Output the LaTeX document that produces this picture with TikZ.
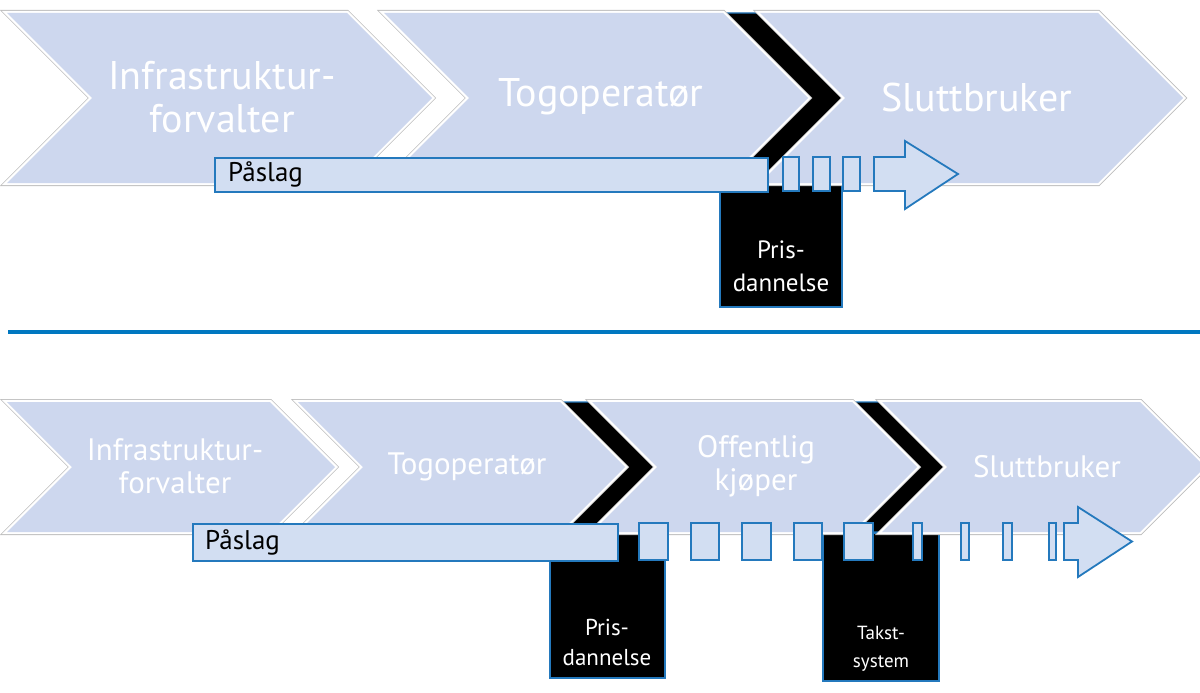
\documentclass[tikz,border=0pt]{standalone}
\usepackage{fontspec}
\setmainfont{PT Sans}
\definecolor{chevfill}{HTML}{CDD7EE}
\definecolor{barfill}{HTML}{D2DEF2}
\definecolor{lineblue}{HTML}{2479BD}
\definecolor{rule}{HTML}{0077C0}
\definecolor{edgegray}{HTML}{BDBDBD}
\tikzset{
  chevron/.style={fill=chevfill,
    preaction={draw=white, line width=4.4pt, line join=miter,
      preaction={draw=edgegray, line width=6pt, line join=miter}}},
  band/.style={fill=black, draw=lineblue, line width=1.2pt},
  pricebox/.style={fill=black, draw=lineblue, line width=1.6pt},
  barbox/.style={fill=barfill, draw=lineblue, line width=1.8pt},
  bigtxt/.style={text=white, inner sep=0pt, align=center,
    font=\fontsize{40}{43}\selectfont},
  smalltxt/.style={text=white, inner sep=0pt, align=center,
    font=\fontsize{31}{33}\selectfont},
  bartxt/.style={text=black, inner sep=0pt, anchor=west,
    font=\fontsize{27}{30}\selectfont},
  boxtxt/.style={text=white, inner sep=0pt, align=center},
}
% chevron: left x, top y, bottom y, top width, point depth
\newcommand\chevshape[5]{%
  \path[chevron] (#1,#2) -- ({#1+#4},#2) -- ({#1+#4+#5},{(#2+#3)/2})
    -- ({#1+#4},#3) -- (#1,#3) -- ({#1+#5},{(#2+#3)/2}) -- cycle;}
% black band between two chevrons: inner x, outer x, top, bottom, depth
\newcommand\bandshape[5]{%
  \path[band] (#1,#3) -- (#2,#3) -- ({#2+#5},{(#3+#4)/2}) -- (#2,#4)
    -- (#1,#4) -- ({#1+#5},{(#3+#4)/2}) -- cycle;}
% block arrow: shaft left, shaft right, shaft top, shaft bottom, head top, head bottom, tip x
\newcommand\blockarrow[7]{%
  \path[barbox] (#1,#3) -- (#2,#3) -- (#2,#5) -- (#7,{(#3+#4)/2}) -- (#2,#6)
    -- (#2,#4) -- (#1,#4) -- cycle;}
\newcommand\seg[4]{\path[barbox] (#1,#3) rectangle (#2,#4);}
\begin{document}
\begin{tikzpicture}[x=1pt,y=-1pt]
\useasboundingbox (0,0) rectangle (1200,693);

% ---------- upper chain ----------
\bandshape{723}{760}{13}{183}{85}
\path[pricebox] (720,183) rectangle (842,307);
\chevshape{7}{13}{183}{340}{85}
\chevshape{384}{13}{183}{339}{85}
\chevshape{760}{13}{183}{338}{85}
\node[bigtxt] (ia) at (222,97) {Infrastruktur-\\forvalter};
\node[bigtxt] (ta) at (601,97) {Togoperatør};
\node[bigtxt] (sa) at (977,97) {Sluttbruker};

\node[barbox, anchor=north west, minimum width=553pt, minimum height=34pt,
  inner sep=0pt] (pa) at (214,157) {};
\node[bartxt] (pat) at (228,174) {Påslag};
\seg{783}{799}{157}{191}
\seg{813}{830}{157}{191}
\seg{843}{860}{157}{191}
\blockarrow{874}{905}{157}{191}{141}{209}{958}
\node[boxtxt, font=\fontsize{25}{33}\selectfont] (pra) at (781,266) {Pris-\\dannelse};

% ---------- divider ----------
\coordinate (d1) at (8,332);
\coordinate (d2) at (1200,332);
\draw[rule, line width=4pt] (d1) -- (d2);

% ---------- lower chain ----------
\bandshape{560}{592}{402}{532}{65}
\bandshape{852}{882}{402}{532}{65}
\path[pricebox] (550,533) rectangle (665,678);
\path[pricebox] (823,533) rectangle (939,681);
\chevshape{7}{402}{532}{263}{65}
\chevshape{298}{402}{532}{262}{65}
\chevshape{592}{402}{532}{260}{65}
\chevshape{882}{402}{532}{258}{65}
\node[smalltxt] (ib) at (175,466) {Infrastruktur-\\forvalter};
\node[smalltxt] (tb) at (467,467) {Togoperatør};
\node[smalltxt] (ob) at (756,466) {Offentlig\\kjøper};
\node[smalltxt] (sb) at (1047,467) {Sluttbruker};

\node[barbox, anchor=north west, minimum width=425pt, minimum height=37pt,
  inner sep=0pt] (pb) at (192,523) {};
\node[bartxt] (pbt) at (205,542) {Påslag};
\seg{639}{668}{523}{560}
\seg{691}{719}{523}{560}
\seg{742}{771}{523}{560}
\seg{794}{822}{523}{560}
\seg{844}{873}{523}{560}
\seg{913}{922}{523}{560}
\seg{961}{969}{523}{560}
\seg{1003}{1012}{523}{560}
\seg{1049}{1056}{523}{560}
\blockarrow{1064}{1078}{523}{560}{507}{577}{1132}
\node[boxtxt, font=\fontsize{23}{30}\selectfont] (prb) at (607,642) {Pris-\\dannelse};
\node[boxtxt, font=\fontsize{19}{28}\selectfont] (tsb) at (881,649) {Takst-\\system};
\end{tikzpicture}
\end{document}
